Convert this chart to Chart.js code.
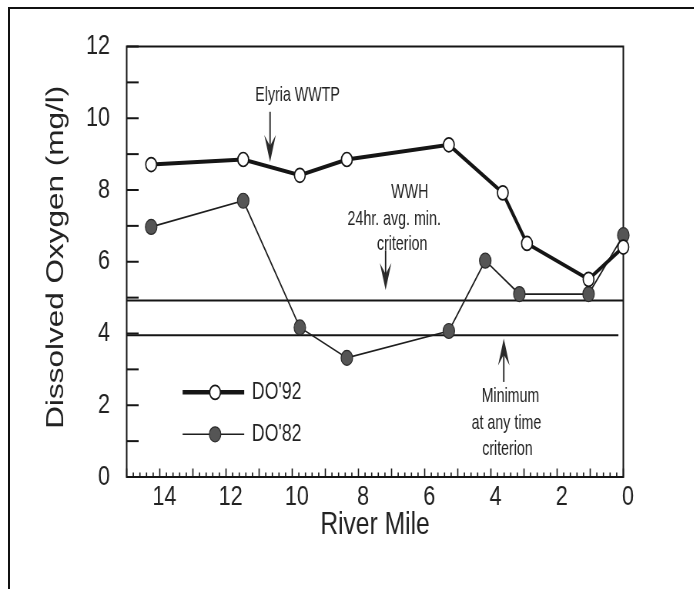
<!DOCTYPE html>
<html>
<head>
<meta charset="utf-8">
<script src="https://cdn.jsdelivr.net/npm/chart.js@4/dist/chart.umd.min.js"></script>
<style>
html, body { margin: 0; padding: 0; background: #fff; width: 694px; height: 589px; overflow: hidden; }
#frame { position: absolute; left: 8px; top: 7px; width: 700px; height: 600px; border-top: 2px solid #111; border-left: 2px solid #111; }
#wrap { position: absolute; left: 0; top: 0; width: 902px; height: 589px; transform: scaleX(0.77); transform-origin: 0 0; }
</style>
</head>
<body>
<div id="frame"></div>
<div id="wrap"><canvas id="c" width="902" height="589"></canvas></div>
<script>
// ---- data ----
const miles92 = [14.26, 11.48, 9.77, 8.35, 5.27, 3.64, 2.91, 1.05, 0];
const do92    = [8.71, 8.85, 8.41, 8.85, 9.26, 7.92, 6.51, 5.51, 6.41];
const miles82 = [14.26, 11.48, 9.77, 8.35, 5.27, 4.17, 3.14, 1.05, 0];
const do82    = [6.97, 7.70, 4.17, 3.32, 4.07, 6.03, 5.10, 5.10, 6.74];
const criterionWWH = 4.92;   // 24hr avg. min. criterion
const criterionMin = 3.95;   // minimum at any time criterion
const xTickLabels = [14, 12, 10, 8, 6, 4, 2, 0];
const yTickLabels = [0, 2, 4, 6, 8, 10, 12];
const seriesNames = ["DO'92", "DO'82"];
const yTitle = 'Dissolved Oxygen (mg/l)';
const xTitle = 'River Mile';

const FONT = '"Liberation Sans", Arial, Helvetica, sans-serif';
Chart.defaults.font.family = FONT;
Chart.defaults.color = '#222';

const pts = (xs, ys) => xs.map((x, i) => ({ x: x, y: ys[i] }));

const notes = [
  { text: 'Elyria WWTP', x: 9.84, y: 10.64 },
  { text: 'WWH', x: 6.45, y: 7.95 },
  { text: '24hr. avg. min.', x: 6.92, y: 7.19 },
  { text: 'criterion', x: 6.68, y: 6.50 },
  { text: 'Minimum', x: 3.41, y: 2.26 },
  { text: 'at any time', x: 3.53, y: 1.51 },
  { text: 'criterion', x: 3.50, y: 0.77 }
];
const arrows = [
  { x: 10.67, from: 10.18, to: 8.78 },
  { x: 7.18, from: 6.32, to: 5.21 },
  { x: 3.61, from: 2.65, to: 3.86 }
];
const legendRows = [
  { ds: 0, y: 2.36, lw: 4.5 },
  { ds: 1, y: 1.19, lw: 1.6 }
];

function seg(ctx, x1, y1, x2, y2) { ctx.beginPath(); ctx.moveTo(x1, y1); ctx.lineTo(x2, y2); ctx.stroke(); }

const decor = {
  id: 'decor',
  beforeDatasetsDraw(chart) {
    const { ctx, chartArea: a, scales: { x, y } } = chart;
    ctx.save();
    ctx.strokeStyle = '#151515';
    ctx.lineWidth = 2;
    ctx.strokeRect(a.left, a.top, a.right - a.left, a.bottom - a.top);
    for (let v = 0; v <= 12; v++) {
      const py = y.getPixelForValue(v);
      seg(ctx, a.left, py, a.left + 15.5, py);
    }
    ctx.lineWidth = 1.6;
    for (let i = 0; i <= 75; i++) {
      const px = x.getPixelForValue(i / 5);
      const len = (i % 5 === 0) ? 8.5 : 4.5;
      seg(ctx, px, a.bottom, px, a.bottom - len);
    }
    // y-axis title
    ctx.fillStyle = '#222';
    ctx.font = '31.5px ' + FONT;
    ctx.textAlign = 'center';
    ctx.textBaseline = 'middle';
    ctx.translate(a.left - 91, (a.top + a.bottom) / 2 - 4.5);
    ctx.rotate(-Math.PI / 2);
    ctx.fillText(yTitle, 0, 0);
    ctx.restore();
  },
  afterDatasetsDraw(chart) {
    const { ctx, scales: { x, y } } = chart;
    ctx.save();
    ctx.fillStyle = '#222';
    ctx.font = '21px ' + FONT;
    ctx.textAlign = 'center';
    ctx.textBaseline = 'middle';
    notes.forEach(n => {
      ctx.save();
      ctx.translate(x.getPixelForValue(n.x), y.getPixelForValue(n.y));
      ctx.scale(0.88, 1);
      ctx.fillText(n.text, 0, 0);
      ctx.restore();
    });
    ctx.strokeStyle = '#1a1a1a';
    ctx.fillStyle = '#2a2a2a';
    ctx.lineWidth = 1.8;
    arrows.forEach(ar => {
      const px = x.getPixelForValue(ar.x);
      const y0 = y.getPixelForValue(ar.from);
      const y1 = y.getPixelForValue(ar.to);
      const dir = y1 > y0 ? 1 : -1;
      seg(ctx, px, y0, px, y1 - dir * 6);
      ctx.beginPath();
      ctx.moveTo(px, y1);
      ctx.lineTo(px - 7.5, y1 - dir * 27);
      ctx.lineTo(px, y1 - dir * 16);
      ctx.lineTo(px + 7.5, y1 - dir * 27);
      ctx.closePath();
      ctx.fill();
    });
    const xl = x.getPixelForValue(13.31), xr = x.getPixelForValue(11.45), xm = x.getPixelForValue(12.33);
    const xt = x.getPixelForValue(11.22);
    legendRows.forEach(r => {
      const ds = chart.data.datasets[r.ds];
      const py = y.getPixelForValue(r.y);
      ctx.strokeStyle = ds.borderColor;
      ctx.lineWidth = r.lw;
      seg(ctx, xl, py, xr, py);
      ctx.beginPath();
      ctx.arc(xm, py, ds.pointRadius, 0, Math.PI * 2);
      ctx.fillStyle = ds.pointBackgroundColor;
      ctx.fill();
      ctx.lineWidth = ds.pointBorderWidth;
      ctx.strokeStyle = ds.pointBorderColor;
      ctx.stroke();
      ctx.fillStyle = '#222';
      ctx.font = '23px ' + FONT;
      ctx.textAlign = 'left';
      ctx.textBaseline = 'middle';
      ctx.fillText(ds.label, xt, py);
    });
    ctx.restore();
  }
};

new Chart(document.getElementById('c'), {
  type: 'line',
  data: {
    datasets: [
      { label: seriesNames[0], data: pts(miles92, do92), borderColor: '#151515', borderWidth: 4,
        pointRadius: 7, pointBackgroundColor: '#ffffff', pointBorderColor: '#151515', pointBorderWidth: 1.7, clip: false },
      { label: seriesNames[1], data: pts(miles82, do82), borderColor: '#1e1e1e', borderWidth: 1.7,
        pointRadius: 7.5, pointBackgroundColor: '#555555', pointBorderColor: '#2a2a2a', pointBorderWidth: 1.2, clip: false },
      { label: 'WWH 24hr. avg. min. criterion', data: [{ x: 15, y: criterionWWH }, { x: 0, y: criterionWWH }],
        borderColor: '#151515', borderWidth: 2, pointRadius: 0, clip: false },
      { label: 'Minimum at any time criterion', data: [{ x: 15, y: criterionMin }, { x: 0.15, y: criterionMin }],
        borderColor: '#151515', borderWidth: 2, pointRadius: 0, clip: false }
    ]
  },
  options: {
    responsive: false,
    animation: false,
    devicePixelRatio: 1,
    layout: { padding: { left: 34.5, top: 46.5, right: 92.5, bottom: 0 } },
    plugins: { legend: { display: false }, tooltip: { enabled: false } },
    scales: {
      x: {
        type: 'linear', reverse: true, min: 0, max: 15,
        grid: { display: false, drawTicks: false },
        border: { display: false },
        afterBuildTicks: s => { s.ticks = xTickLabels.map(v => ({ value: v })); },
        afterFit: s => { s.height = 112; },
        ticks: { font: { size: 28 }, color: '#222', padding: 3, labelOffset: 6, maxRotation: 0, autoSkip: false },
        title: { display: true, text: xTitle, font: { size: 32 }, color: '#222', padding: { top: 0, bottom: 44.8 } }
      },
      y: {
        type: 'linear', min: 0, max: 12,
        grid: { display: false, drawTicks: false },
        border: { display: false },
        afterBuildTicks: s => { s.ticks = yTickLabels.map(v => ({ value: v })); },
        afterFit: s => { s.width = 130; },
        ticks: { font: { size: 28 }, color: '#222', padding: 21.6, autoSkip: false },
        title: { display: false }
      }
    }
  },
  plugins: [decor]
});
</script>
</body>
</html>
